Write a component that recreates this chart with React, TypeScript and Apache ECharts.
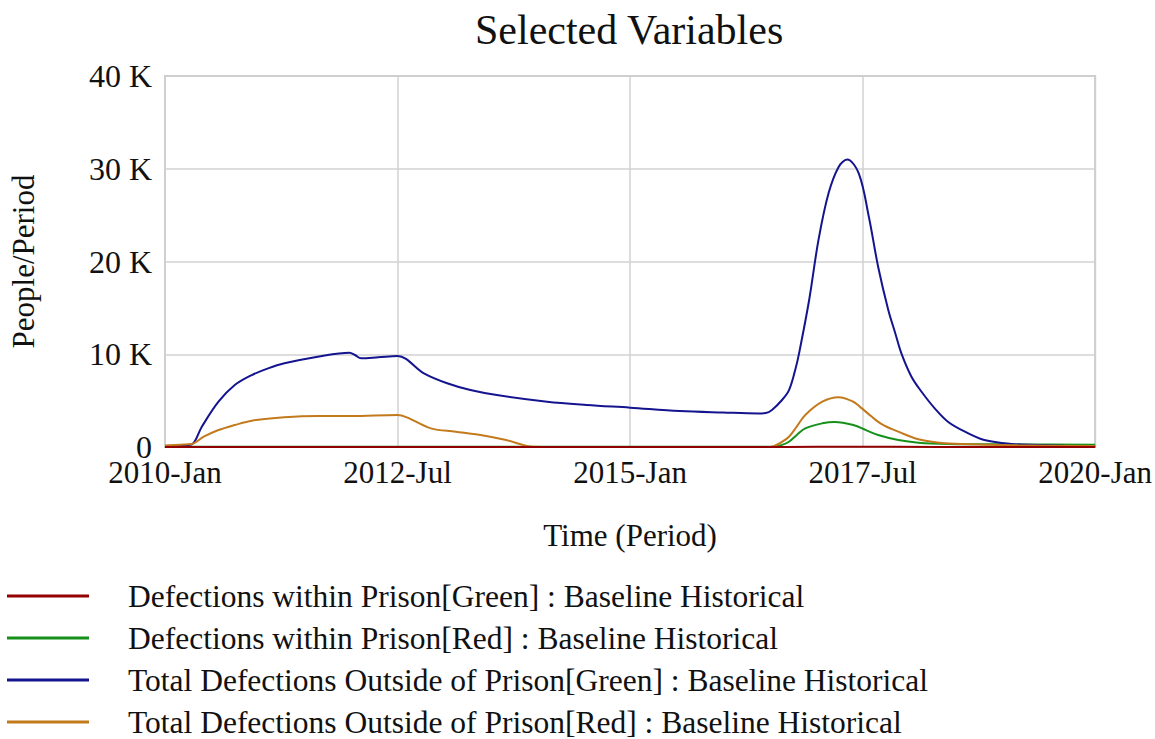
import React, { useEffect, useRef } from "react";
import * as echarts from "echarts";

// ---- Data (time in months since 2010-Jan) ----
const seriesNames = [
  "Defections within Prison[Green] : Baseline Historical",
  "Defections within Prison[Red] : Baseline Historical",
  "Total Defections Outside of Prison[Green] : Baseline Historical",
  "Total Defections Outside of Prison[Red] : Baseline Historical",
];
const seriesColors = ["#930000", "#15911a", "#14148f", "#c27a1d"];

const xTickValues = [0, 30, 60, 90, 120];
const xTickLabels = ["2010-Jan", "2012-Jul", "2015-Jan", "2017-Jul", "2020-Jan"];
const yTickValues = [0, 10000, 20000, 30000, 40000];
const yTickLabels = ["0", "10 K", "20 K", "30 K", "40 K"];

// Defections within Prison[Green]
const redT = [0, 30, 60, 80, 88, 100, 120];
const redV = [0, 0, 0, 0, 30, 10, 0];

// Defections within Prison[Red]
const greenT = [
  0, 20, 40, 60, 78, 78.6, 79.5, 80.5, 81.5, 82.6, 84.8, 86.4, 88.8, 90.5, 92, 94.6,
  97.2, 101, 110, 120,
];
const greenV = [
  30, 30, 30, 30, 30, 40, 200, 570, 1300, 2010, 2550, 2700, 2370, 1800, 1290, 750,
  460, 330, 280, 230,
];

// Total Defections Outside of Prison[Green]
const blueT = [
  0, 2, 3.4, 4.75, 6.9, 9, 11.2, 13.3, 15.4, 19.7, 23.8, 24.5, 25.3, 27.5, 30,
  33.4, 36.4, 39.4, 42.8, 49.3, 54.4, 60, 66.4, 72, 76.6, 77.5, 78.3, 79.6, 80.5,
  81.3, 81.8, 83.1, 84.3, 85.6, 86.9, 88, 89.5, 90.8, 92, 93.3, 94.2, 95, 96.3,
  97.6, 99.3, 101, 103.2, 105.7, 109.2, 112.6, 116, 120,
];
const blueV = [
  100, 150, 250, 2190, 4880, 6680, 7760, 8480, 9020, 9730, 10170, 9920, 9560, 9670, 9810,
  7940, 6870, 6140, 5600, 4880, 4530, 4240, 3880, 3720, 3620, 3660, 3990, 5070, 6140,
  8300, 10100, 15850, 22300, 27350, 30200, 31000, 29500, 24830, 19440, 14800, 12300, 10100, 7580,
  5960, 4170, 2730, 1650, 750, 320, 215, 130, 80,
];

// Total Defections Outside of Prison[Red]
const orangeT = [
  0, 2, 3.4, 5, 6.9, 9, 11.2, 15.4, 19.7, 24, 30, 31.2, 34.3, 37.5, 40.7, 44, 47.5,
  50, 78, 78.6, 79.5, 80.5, 81.5, 82.6, 84.8, 86.9, 88.8, 89.7, 90.7, 91.7, 92.8,
  94.6, 97.2, 100.6, 105, 110, 120,
];
const orangeV = [
  150, 250, 320, 1110, 1830, 2370, 2840, 3200, 3340, 3340, 3450, 3200, 2010, 1650, 1290, 750, 30,
  0, 0, 120, 500, 1110, 2200, 3450, 4880, 5360, 4880, 4300, 3600, 2900, 2300,
  1650, 830, 400, 270, 180, 100,
];

const seriesT = [redT, greenT, blueT, orangeT];
const seriesV = [redV, greenV, blueV, orangeV];

const FONT = "'Liberation Serif', 'Times New Roman', serif";

export default function App() {
  const ref = useRef<HTMLDivElement>(null);

  useEffect(() => {
    if (!ref.current) return;
    const chart = echarts.init(ref.current, undefined, { renderer: "svg" });
    const option: any = {
      animation: false,
      backgroundColor: "#ffffff",
      textStyle: { fontFamily: FONT, color: "#111111" },
      title: {
        text: "Selected Variables",
        left: 475,
        top: 9,
        padding: 0,
        textStyle: { fontFamily: FONT, fontSize: 42, fontWeight: "normal", color: "#111111" },
      },
      grid: {
        left: 163,
        right: 57,
        top: 76,
        bottom: 292,
        show: true,
        borderColor: "#c6c6c6",
        borderWidth: 2,
        containLabel: false,
      },
      legend: {
        orient: "vertical",
        left: 7,
        top: 580,
        height: 200,
        padding: 0,
        itemWidth: 82,
        itemHeight: 3,
        itemGap: 10,
        icon: "rect",
        data: seriesNames,
        textStyle: {
          fontFamily: FONT,
          fontSize: 31.5,
          color: "#111111",
          lineHeight: 30,
          padding: [0, 0, 0, 34],
        },
      },
      xAxis: {
        type: "value",
        min: 0,
        max: 120,
        interval: 30,
        name: "Time (Period)",
        nameLocation: "middle",
        nameGap: 73,
        nameTextStyle: { fontFamily: FONT, fontSize: 31, color: "#111111" },
        axisLine: { show: false },
        axisTick: { show: false },
        splitLine: { show: true, lineStyle: { color: "#d2d2d2", width: 1.5 } },
        axisLabel: {
          fontFamily: FONT,
          fontSize: 31,
          lineHeight: 26,
          color: "#111111",
          margin: 12,
          showMaxLabel: true,
          showMinLabel: true,
          formatter: (v: number) => {
            const i = xTickValues.indexOf(v);
            return i >= 0 ? xTickLabels[i] : "";
          },
        },
      },
      yAxis: {
        type: "value",
        min: 0,
        max: 40000,
        interval: 10000,
        name: "People/Period",
        nameLocation: "middle",
        nameGap: 126,
        nameTextStyle: { fontFamily: FONT, fontSize: 31, color: "#111111" },
        axisLine: { show: false },
        axisTick: { show: false },
        splitLine: { show: true, lineStyle: { color: "#d2d2d2", width: 1.5 } },
        axisLabel: {
          fontFamily: FONT,
          fontSize: 32,
          lineHeight: 24,
          color: "#111111",
          margin: 13,
          formatter: (v: number) => {
            const i = yTickValues.indexOf(v);
            return i >= 0 ? yTickLabels[i] : "";
          },
        },
      },
      series: seriesNames.map((name, k) => ({
        name,
        type: "line",
        smooth: 0.35,
        showSymbol: false,
        symbol: "none",
        color: seriesColors[k],
        lineStyle: { color: seriesColors[k], width: 2 },
        itemStyle: { color: seriesColors[k] },
        z: k === 0 ? 5 : 2,
        data: seriesT[k].map((t, i) => [t, seriesV[k][i]]),
      })),
    };
    chart.setOption(option);
    return () => chart.dispose();
  }, []);

  return (
    <div
      ref={ref}
      style={{ position: "fixed", left: 0, top: 0, width: 1155, height: 739, background: "#fff" }}
    />
  );
}
